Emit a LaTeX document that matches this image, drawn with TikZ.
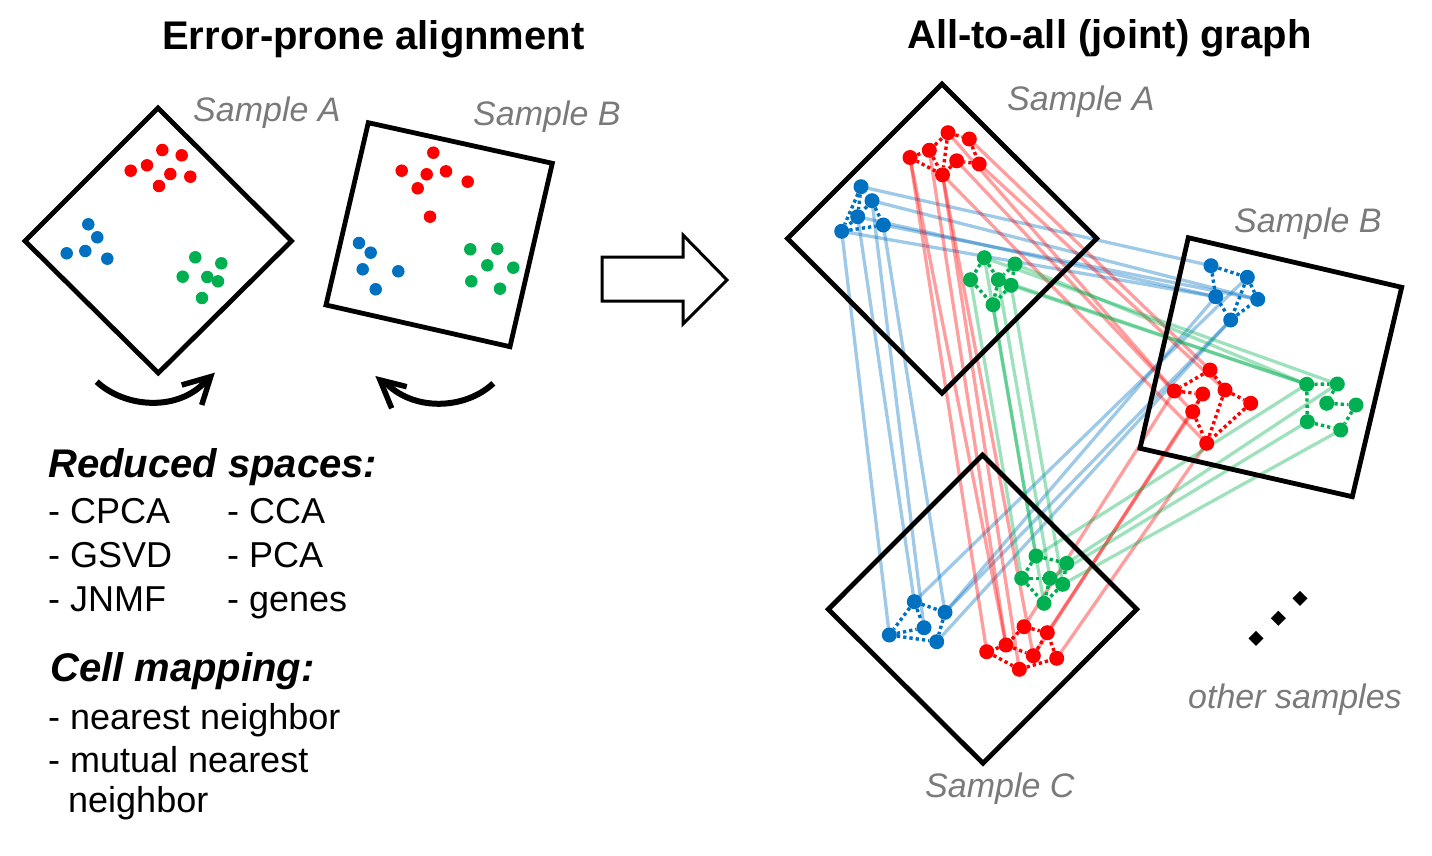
\documentclass[tikz,border=0pt]{standalone}
\usepackage{fontspec}
\setmainfont{Liberation Sans}
\usetikzlibrary{backgrounds}
\definecolor{cred}{RGB}{255,0,0}
\definecolor{cblue}{RGB}{0,112,192}
\definecolor{cgreen}{RGB}{0,176,80}
\definecolor{labgray}{RGB}{122,122,122}
\begin{document}
\begin{tikzpicture}[x=1pt,y=-1pt,
  frame/.style={draw=black,line width=4.8pt,line join=miter},
  ldot/.style={circle,inner sep=0pt,minimum size=12.5pt,draw=none},
  cnode/.style={circle,inner sep=0pt,minimum size=15pt,draw=none},
  knn/.style={line width=3.4pt,dash pattern=on 3.3pt off 3pt},
  link/.style={line width=3.3pt,draw opacity=0.38},
  ttl/.style={anchor=base west,inner sep=0pt,font=\fontsize{40}{48}\selectfont\bfseries},
  hdr/.style={anchor=base west,inner sep=0pt,font=\fontsize{40}{48}\selectfont\bfseries\itshape},
  itm/.style={anchor=base west,inner sep=0pt,font=\fontsize{36}{43}\selectfont},
  glabel/.style={anchor=base west,inner sep=0pt,text=labgray,font=\fontsize{34}{40}\selectfont\itshape},
  curv/.style={line width=6pt,draw=black},
  chev/.style={line width=5.5pt,draw=black,line cap=butt,line join=miter}
]
\useasboundingbox (0,0) rectangle (1432,856);

% ---------- titles ----------
\node[ttl] (t1) at (162,50) {Error-prone alignment};
\node[ttl] (t2) at (907,49) {All-to-all (joint) graph};

% ---------- left samples ----------
\draw[frame] (158,108) -- (291.5,241) -- (158.3,373) -- (25,241) -- cycle;
\draw[frame] (368.3,122.7) -- (552.3,163.3) -- (510,346.7) -- (326,305) -- cycle;
\node[glabel] (lsa) at (193,122) {Sample A};
\node[glabel] (lsb) at (473,125) {Sample B};

\foreach \x/\y [count=\i] in {162.3/150,181.7/155.3,147/165.3,130.7/170.7,170.3/174,190.3/176.7,159/186}
  \node[ldot,fill=cred] (LAr\i) at (\x,\y) {};
\foreach \x/\y [count=\i] in {88.3/224.3,97.3/237.3,85.3/251,66.7/253.3,107.3/258.7}
  \node[ldot,fill=cblue] (LAb\i) at (\x,\y) {};
\foreach \x/\y [count=\i] in {195.3/257.3,221.3/263.3,182.7/276.7,207.3/277,218/281.3,202/298}
  \node[ldot,fill=cgreen] (LAg\i) at (\x,\y) {};
\foreach \x/\y [count=\i] in {433.3/152.7,401.7/170.7,426.7/174.3,446/171.3,467.7/181.7,417.7/188.3,430/216.7}
  \node[ldot,fill=cred] (LBr\i) at (\x,\y) {};
\foreach \x/\y [count=\i] in {359/243,370.7/252.7,362.7/269.3,398.3/271.3,375.7/289.3}
  \node[ldot,fill=cblue] (LBb\i) at (\x,\y) {};
\foreach \x/\y [count=\i] in {470.3/249.3,497.3/248.7,487.3/265.3,513.3/267.7,471.3/281.3,500/288.7}
  \node[ldot,fill=cgreen] (LBg\i) at (\x,\y) {};

% curved arrows
\draw[curv] (96.7,381.7) .. controls (125,408) and (178,412) .. (206,381);
\draw[chev] (181.7,385) -- (210.7,376.7) -- (201.7,405);
\draw[curv] (493.3,383.3) .. controls (465,410) and (412,412) .. (384,381);
\draw[chev] (406.7,386.7) -- (380,380) -- (391.7,408.3);

% big hollow arrow
\draw[line width=3pt,line join=miter] (602,257) -- (683,257) -- (683,235) -- (727,280) -- (683,324) -- (683,301) -- (602,301) -- cycle;

% ---------- left text ----------
\node[hdr] (h1) at (48,477) {Reduced spaces:};
\node[itm] (i1) at (48,523) {- CPCA};
\node[itm] (i2) at (48,567) {- GSVD};
\node[itm] (i3) at (48,611) {- JNMF};
\node[itm] (i4) at (227,523) {- CCA};
\node[itm] (i5) at (227,567) {- PCA};
\node[itm] (i6) at (227,611) {- genes};
\node[hdr] (h2) at (50,681) {Cell mapping:};
\node[itm] (m1) at (48,729) {- nearest neighbor};
\node[itm] (m2) at (48,772) {- mutual nearest};
\node[itm] (m3) at (68,812) {neighbor};

% ---------- right samples ----------
\draw[frame] (942,84) -- (1096.7,238.5) -- (942,393.3) -- (787.5,238.5) -- cycle;
\draw[frame] (1188.3,237.7) -- (1401.7,287.3) -- (1352.3,496.7) -- (1140,448.3) -- cycle;
\draw[frame] (982.5,455) -- (1136.7,609.3) -- (983,763.3) -- (828.3,609.3) -- cycle;
\node[glabel] (rsa) at (1007,111) {Sample A};
\node[glabel] (rsb) at (1234,232) {Sample B};
\node[glabel] (rsc) at (925,797) {Sample C};
\node[glabel] (oth) at (1188,708) {other samples};

\foreach \x/\y in {1256/638.3,1278.3/618.3,1300/598.3}
  \fill (\x,\y-7.5) -- (\x+7.5,\y) -- (\x,\y+7.5) -- (\x-7.5,\y) -- cycle;

% cluster nodes
\foreach \x/\y [count=\i] in {948/132.7,969.3/139,929.3/150.3,910/157.5,956.7/160.8,979.2/164,942.5/174.8}
  \node[cnode,fill=cred] (Ar\i) at (\x,\y) {};
\foreach \x/\y [count=\i] in {861/186.7,872/200.7,857.7/216.7,883.3/225,841.7/231.3}
  \node[cnode,fill=cblue] (Ab\i) at (\x,\y) {};
\foreach \x/\y [count=\i] in {984.3/257.7,1015/264,970.5/279.7,998.3/279.7,1011/285.3,993/304.7}
  \node[cnode,fill=cgreen] (Ag\i) at (\x,\y) {};
\foreach \x/\y [count=\i] in {1210/370,1174.3/391,1202.7/394,1225/390,1250.7/403.3,1192.7/411.7,1206.7/443.3}
  \node[cnode,fill=cred] (Br\i) at (\x,\y) {};
\foreach \x/\y [count=\i] in {1211/265.7,1247.3/277.3,1215.7/296.7,1257.7/299.3,1230.7/320}
  \node[cnode,fill=cblue] (Bb\i) at (\x,\y) {};
\foreach \x/\y [count=\i] in {1306.7/384.3,1337.3/384,1326.7/403.3,1356/405,1307.3/421.7,1340.7/430}
  \node[cnode,fill=cgreen] (Bg\i) at (\x,\y) {};
\foreach \x/\y [count=\i] in {1024/626.7,1047.3/632.7,1006/645,986.7/651.7,1033.3/655.7,1056.7/658.3,1019.3/669.3}
  \node[cnode,fill=cred] (Cr\i) at (\x,\y) {};
\foreach \x/\y [count=\i] in {914.3/601.7,945/612.3,924/627.7,889.3/635,936.7/641.7}
  \node[cnode,fill=cblue] (Cb\i) at (\x,\y) {};
\foreach \x/\y [count=\i] in {1036/556,1066.7/563.3,1021.7/578.3,1050/578.3,1062.7/584.3,1044/603.3}
  \node[cnode,fill=cgreen] (Cg\i) at (\x,\y) {};

% within-sample kNN edges (dotted)
\foreach \a/\b in {4/3,3/1,1/2,2/6,6/5,5/7,7/4,1/7,3/7} {
  \draw[knn,cred] (Ar\a) -- (Ar\b);
}
\foreach \a/\b in {1/5,2/3,2/4,3/5,5/4,1/3} {
  \draw[knn,cblue] (Ab\a) -- (Ab\b);
}
\foreach \a/\b in {1/3,1/4,2/4,2/5,3/6,4/6,5/6} {
  \draw[knn,cgreen] (Ag\a) -- (Ag\b);
}
\foreach \a/\b in {1/2,2/3,1/4,4/5,3/6,6/7,4/7,5/7} {
  \draw[knn,cred] (Br\a) -- (Br\b);
}
\foreach \a/\b in {1/2,1/3,3/5,5/4,2/4,2/5} {
  \draw[knn,cblue] (Bb\a) -- (Bb\b);
}
\foreach \a/\b in {1/2,1/5,2/3,3/4,4/6,5/6} {
  \draw[knn,cgreen] (Bg\a) -- (Bg\b);
}
\foreach \a/\b in {1/2,1/3,3/4,4/7,7/6,6/2,3/5,5/2} {
  \draw[knn,cred] (Cr\a) -- (Cr\b);
}
\foreach \a/\b in {1/2,1/4,1/3,4/3,4/5,2/5} {
  \draw[knn,cblue] (Cb\a) -- (Cb\b);
}
\foreach \a/\b in {1/2,1/3,3/4,2/5,3/6,5/6,4/6} {
  \draw[knn,cgreen] (Cg\a) -- (Cg\b);
}

% between-sample links (light)
\begin{pgfonlayer}{background}
\foreach \a/\b in {Ab1/Bb1,Ab2/Bb4,Ab4/Bb4,Ab5/Bb3,Ab3/Bb3,
                   Ab5/Cb4,Ab3/Cb1,Ab2/Cb3,Ab4/Cb2,
                   Bb2/Cb1,Bb5/Cb2,Bb5/Cb5,Bb3/Cb2} {
  \draw[link,cblue] (\a.center) -- (\b.center);
}
\foreach \a/\b in {Ar4/Cr4,Ar3/Cr3,Ar7/Cr7,Ar4/Cr3,Ar7/Cr5,
                   Ar2/Br1,Ar6/Br4,Ar1/Br2,Ar5/Br6,Ar7/Br7,
                   Br7/Cr6,Br6/Cr2,Br3/Cr5,Br2/Cr1} {
  \draw[link,cred] (\a.center) -- (\b.center);
}
\foreach \a/\b in {Ag1/Bg2,Ag2/Bg1,Ag5/Bg1,Ag4/Bg1,
                   Ag3/Cg3,Ag1/Cg1,Ag4/Cg4,Ag6/Cg6,Ag5/Cg5,
                   Bg1/Cg1,Bg2/Cg2,Bg5/Cg4,Bg6/Cg5} {
  \draw[link,cgreen] (\a.center) -- (\b.center);
}
\end{pgfonlayer}
\end{tikzpicture}
\end{document}
